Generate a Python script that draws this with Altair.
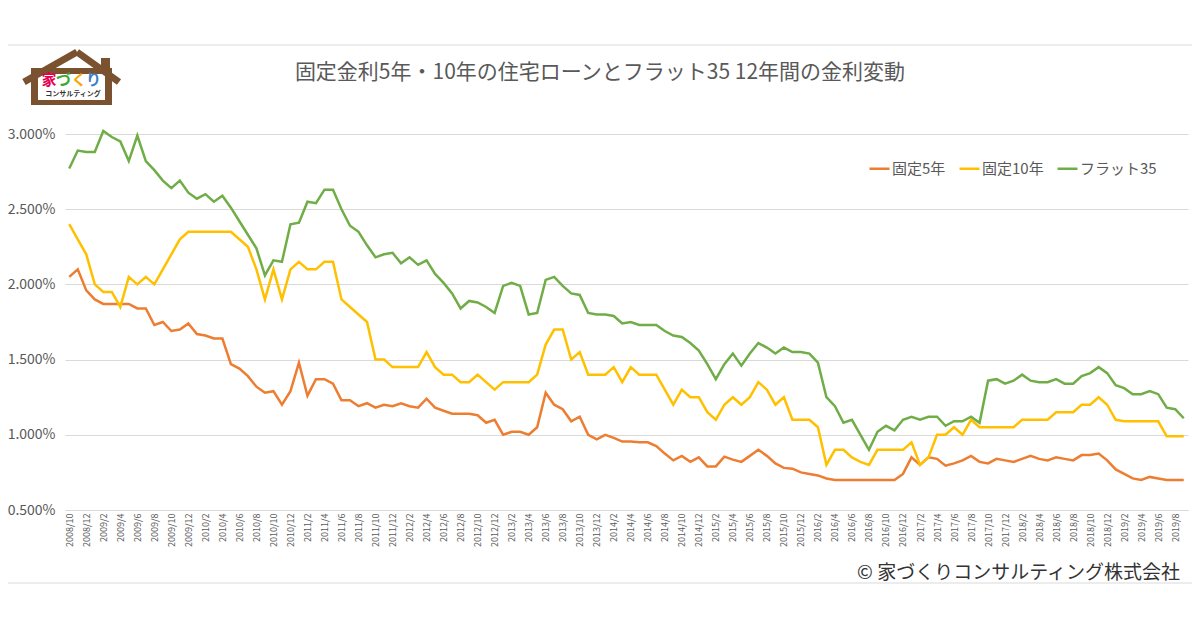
import altair as alt
import pandas as pd

# ---- data -----------------------------------------------------------
series_names = ["固定5年", "固定10年", "フラット35"]
series_colors = ["#ED7D31", "#FFC000", "#70AD47"]

months = []
yy, mm = 2008, 10
for _ in range(132):
    months.append(f"{yy}/{mm}")
    mm += 1
    if mm > 12:
        mm = 1
        yy += 1
tick_labels = months[::2]

fixed5 = [2.05, 2.10, 1.96, 1.90, 1.87, 1.87, 1.87, 1.87, 1.84, 1.84,
          1.73, 1.75, 1.69, 1.70, 1.74, 1.67, 1.66, 1.64, 1.64, 1.47,
          1.44, 1.39, 1.32, 1.28, 1.29, 1.20, 1.29, 1.48, 1.26, 1.37,
          1.37, 1.34, 1.23, 1.23, 1.19, 1.21, 1.18, 1.20, 1.19, 1.21,
          1.19, 1.18, 1.24, 1.18, 1.16, 1.14, 1.14, 1.14, 1.13, 1.08,
          1.10, 1.00, 1.02, 1.02, 1.00, 1.05, 1.28, 1.20, 1.17, 1.09,
          1.12, 1.00, 0.97, 1.00, 0.98, 0.955, 0.955, 0.95, 0.95, 0.925,
          0.875, 0.83, 0.86, 0.82, 0.85, 0.79, 0.79, 0.855, 0.835, 0.82,
          0.86, 0.90, 0.86, 0.81, 0.78, 0.775, 0.75, 0.74, 0.73, 0.71,
          0.70, 0.70, 0.70, 0.70, 0.70, 0.70, 0.70, 0.70, 0.74, 0.85,
          0.80, 0.85, 0.84, 0.795, 0.81, 0.83, 0.86, 0.82, 0.81, 0.84,
          0.83, 0.82, 0.84, 0.86, 0.84, 0.83, 0.85, 0.84, 0.83, 0.865,
          0.865, 0.875, 0.83, 0.77, 0.74, 0.71, 0.70, 0.72, 0.71, 0.70,
          0.70, 0.70]

fixed10 = [2.40, 2.30, 2.20, 2.00, 1.95, 1.95, 1.85, 2.05, 2.00, 2.05,
           2.00, 2.10, 2.20, 2.30, 2.35, 2.35, 2.35, 2.35, 2.35, 2.35,
           2.30, 2.25, 2.10, 1.90, 2.10, 1.90, 2.10, 2.15, 2.10, 2.10,
           2.15, 2.15, 1.90, 1.85, 1.80, 1.75, 1.50, 1.50, 1.45, 1.45,
           1.45, 1.45, 1.55, 1.45, 1.40, 1.40, 1.35, 1.35, 1.40, 1.35,
           1.30, 1.35, 1.35, 1.35, 1.35, 1.40, 1.60, 1.70, 1.70, 1.50,
           1.55, 1.40, 1.40, 1.40, 1.45, 1.35, 1.45, 1.40, 1.40, 1.40,
           1.30, 1.20, 1.30, 1.25, 1.25, 1.15, 1.10, 1.20, 1.25, 1.20,
           1.25, 1.35, 1.30, 1.20, 1.25, 1.10, 1.10, 1.10, 1.05, 0.80,
           0.90, 0.90, 0.85, 0.82, 0.80, 0.90, 0.90, 0.90, 0.90, 0.95,
           0.80, 0.85, 1.00, 1.00, 1.05, 1.00, 1.10, 1.05, 1.05, 1.05,
           1.05, 1.05, 1.10, 1.10, 1.10, 1.10, 1.15, 1.15, 1.15, 1.20,
           1.20, 1.25, 1.20, 1.10, 1.09, 1.09, 1.09, 1.09, 1.09, 0.99,
           0.99, 0.99]

flat35 = [2.77, 2.89, 2.88, 2.88, 3.02, 2.98, 2.95, 2.82, 2.99, 2.82,
          2.76, 2.69, 2.64, 2.69, 2.61, 2.57, 2.60, 2.55, 2.59, 2.51,
          2.42, 2.33, 2.24, 2.06, 2.16, 2.15, 2.40, 2.41, 2.55, 2.54,
          2.63, 2.63, 2.50, 2.39, 2.35, 2.26, 2.18, 2.20, 2.21, 2.14,
          2.18, 2.13, 2.16, 2.07, 2.01, 1.94, 1.84, 1.89, 1.88, 1.85,
          1.81, 1.99, 2.01, 1.99, 1.80, 1.81, 2.03, 2.05, 1.99, 1.94,
          1.93, 1.81, 1.80, 1.80, 1.79, 1.74, 1.75, 1.73, 1.73, 1.73,
          1.69, 1.66, 1.65, 1.61, 1.56, 1.47, 1.37, 1.47, 1.54, 1.46,
          1.54, 1.61, 1.58, 1.54, 1.58, 1.55, 1.55, 1.54, 1.48, 1.25,
          1.19, 1.08, 1.10, 1.00, 0.90, 1.02, 1.06, 1.03, 1.10, 1.12,
          1.10, 1.12, 1.12, 1.06, 1.09, 1.09, 1.12, 1.08, 1.36, 1.37,
          1.34, 1.36, 1.40, 1.36, 1.35, 1.35, 1.37, 1.34, 1.34, 1.39,
          1.41, 1.45, 1.41, 1.33, 1.31, 1.27, 1.27, 1.29, 1.27, 1.18,
          1.17, 1.11]

y_ticks = [0.5, 1.0, 1.5, 2.0, 2.5, 3.0]

title_text = "固定金利5年・10年の住宅ローンとフラット35 12年間の金利変動"
copyright_text = "© 家づくりコンサルティング株式会社"

rows = []
for name, vals in zip(series_names, [fixed5, fixed10, flat35]):
    for m, v in zip(months, vals):
        rows.append({"month": m, "series": name, "value": v})
df = pd.DataFrame(rows)

FONT = "Noto Sans CJK JP"
GRAY = "#595959"
BROWN = "#7a5230"

one = pd.DataFrame({"k": [0]})

# ---- main lines -----------------------------------------------------
lines = alt.Chart(df).mark_line(strokeWidth=2.5, clip=False).encode(
    x=alt.X("month:N", sort=months,
            scale=alt.Scale(type="point", padding=0.5),
            axis=alt.Axis(values=tick_labels, labelAngle=270, labelFontSize=9,
                          labelColor=GRAY, labelFont=FONT, ticks=False,
                          domain=True, domainColor="#d9d9d9", labelPadding=3,
                          labelOverlap=False, grid=False, title=None)),
    y=alt.Y("value:Q",
            scale=alt.Scale(domain=[0.5, 3.0], nice=False, zero=False),
            axis=alt.Axis(values=y_ticks,
                          labelExpr="format(datum.value, '.3f') + '%'",
                          labelFontSize=14, labelColor=GRAY, labelFont=FONT,
                          ticks=False, domain=False, grid=True,
                          gridColor="#d9d9d9", labelPadding=10, title=None)),
    color=alt.Color("series:N",
                    scale=alt.Scale(domain=series_names, range=series_colors),
                    sort=series_names,
                    legend=alt.Legend(title=None, orient="none", direction="horizontal",
                                      legendX=803, legendY=23,
                                      symbolType="stroke", symbolSize=400,
                                      symbolStrokeWidth=2.5, labelFontSize=15,
                                      labelColor=GRAY, labelFont=FONT,
                                      labelOffset=1, columnPadding=8)),
    order=alt.Order("series:N"),
)

# ---- decorations ----------------------------------------------------
def rule(x1, y1, x2, y2, color, w):
    return alt.Chart(one).mark_rule(color=color, strokeWidth=w, clip=False).encode(
        x=alt.value(x1), y=alt.value(y1), x2=alt.value(x2), y2=alt.value(y2))

def rect(x1, y1, x2, y2, color):
    return alt.Chart(one).mark_rect(color=color, clip=False).encode(
        x=alt.value(x1), y=alt.value(y1), x2=alt.value(x2), y2=alt.value(y2))

def text(t, x, y, size, color, align="center", weight="normal"):
    return alt.Chart(one).mark_text(text=t, fontSize=size, color=color, font=FONT,
                                    align=align, baseline="middle",
                                    fontWeight=weight, clip=False).encode(
        x=alt.value(x), y=alt.value(y))

frame_top = rule(-57, -89, 1127, -89, "#d9d9d9", 1)
frame_bottom = rule(-57, 449, 1127, 449, "#d9d9d9", 1)

title = text(title_text, 535, -61, 21, GRAY)
copyright = text(copyright_text, 1115, 439, 19, "#333333", align="right")

# logo
logo = [
    rect(-34, -66, 47, -29, BROWN),
    rect(-27, -60, 40, -34, "#ffffff"),
    rect(36, -76, 45, -60, BROWN),
    rule(-41, -52, 12, -82, BROWN, 7),
    rule(12, -82, 54, -52, BROWN, 7),
    text("家", -16, -54, 15, "#e5004f", weight="bold"),
    text("づ", -1.5, -54, 15, "#3aa935", weight="bold"),
    text("く", 14, -54, 15, "#f6a800", weight="bold"),
    text("り", 28.5, -54, 15, "#3b7fc4", weight="bold"),
    text("コンサルティング", 8, -40, 7, "#333333", weight="bold"),
]

chart = alt.layer(frame_top, frame_bottom, lines, title, copyright, *logo).properties(
    width=1123, height=376,
    autosize=alt.AutoSizeParams(type="none"),
    padding={"left": 57, "top": 126, "right": 4, "bottom": 102},
    background="white",
).configure_view(stroke=None)

chart.save("out.html", embed_options={"renderer": "svg", "actions": False})
